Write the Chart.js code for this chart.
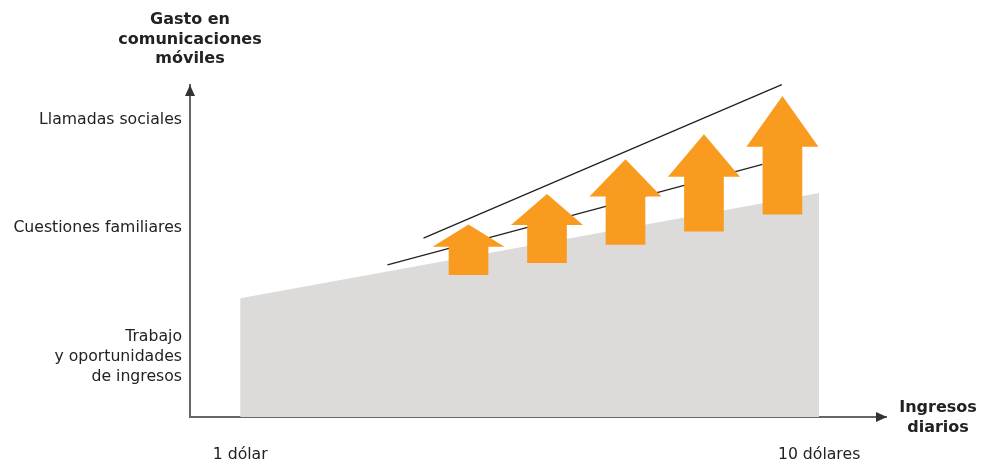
<!DOCTYPE html>
<html>
<head>
<meta charset="utf-8">
<script src="https://cdn.jsdelivr.net/npm/chart.js@4/dist/chart.umd.min.js"></script>
<style>
  html, body { margin: 0; padding: 0; background: #fff; }
  #wrap { width: 993px; height: 465px; }
</style>
</head>
<body>
<div id="wrap"><canvas id="chart"></canvas></div>
<script>
// ingresos diarios (eje x) y gasto (eje y), en unidades del gráfico
const incomeTicks = [1, 10];
const incomeLabels = ['1 dólar', '10 dólares'];
const spendTicks = [8.95, 5.69, 1.81];
const spendLabels = ['Llamadas sociales', 'Cuestiones familiares', ['Trabajo', 'y oportunidades', 'de ingresos']];

// zona gris
const areaX = [1, 10];
const areaY = [3.58, 6.75];

// las dos rectas negras
const upperLineX = [3.85, 9.42];
const upperLineY = [5.39, 10.01];
const lowerLineX = [3.29, 9.12];
const lowerLineY = [4.58, 7.61];

// flechas naranjas
const arrowX = [4.55, 5.77, 6.99, 8.21, 9.43];
const arrowBottom = [4.29, 4.65, 5.20, 5.60, 6.11];
const arrowBase = [5.13, 5.78, 6.64, 7.24, 8.14];
const arrowTip = [5.80, 6.72, 7.76, 8.52, 9.67];

const ORANGE = '#f99b1f';
const AXIS = '#666666';
const TEXT = '#222222';
const FONT = "'DejaVu Sans', Verdana, sans-serif";

const pts = (xs, ys) => xs.map((x, i) => ({ x: x, y: ys[i] }));

// puntas de flecha y textos de los ejes
const decorPlugin = {
  id: 'decor',
  afterDatasetsDraw(chart) {
    const ctx = chart.ctx;
    const xs = chart.scales.x, ys = chart.scales.y;
    const headHalf = 36;
    ctx.save();
    ctx.fillStyle = ORANGE;
    arrowX.forEach((v, i) => {
      const cx = xs.getPixelForValue(v);
      const by = ys.getPixelForValue(arrowBase[i]);
      const ty = ys.getPixelForValue(arrowTip[i]);
      ctx.beginPath();
      ctx.moveTo(cx - headHalf, by);
      ctx.lineTo(cx, ty);
      ctx.lineTo(cx + headHalf, by);
      ctx.closePath();
      ctx.fill();
    });

    // flechas de los ejes
    const area = chart.chartArea;
    const x0 = area.left;
    const y0 = area.bottom;
    ctx.fillStyle = '#333';
    ctx.beginPath();
    ctx.moveTo(area.right + 1, y0);
    ctx.lineTo(area.right - 10, y0 - 5);
    ctx.lineTo(area.right - 10, y0 + 5);
    ctx.closePath();
    ctx.fill();
    ctx.beginPath();
    ctx.moveTo(x0, area.top);
    ctx.lineTo(x0 - 5, area.top + 11);
    ctx.lineTo(x0 + 5, area.top + 11);
    ctx.closePath();
    ctx.fill();

    ctx.fillStyle = TEXT;
    ctx.font = 'bold 16px ' + FONT;
    ctx.textAlign = 'center';
    ctx.textBaseline = 'middle';
    ['Gasto en', 'comunicaciones', 'móviles'].forEach((t, i) => {
      ctx.fillText(t, x0, 20 + i * 19.5);
    });
    ['Ingresos', 'diarios'].forEach((t, i) => {
      ctx.fillText(t, area.right + 52, 408 + i * 19.5);
    });
    ctx.restore();
  }
};

new Chart(document.getElementById('chart'), {
  type: 'bar',
  data: {
    datasets: [
      {
        type: 'line',
        data: pts(areaX, areaY),
        fill: 'origin',
        backgroundColor: '#dcdbda',
        borderWidth: 0,
        pointRadius: 0,
        order: 4
      },
      {
        type: 'line',
        data: pts(upperLineX, upperLineY),
        borderColor: '#222',
        borderWidth: 1.3,
        pointRadius: 0,
        clip: false,
        order: 3
      },
      {
        type: 'line',
        data: pts(lowerLineX, lowerLineY),
        borderColor: '#222',
        borderWidth: 1.3,
        pointRadius: 0,
        order: 3
      },
      {
        type: 'bar',
        data: arrowX.map((x, i) => ({ x: x, y: [arrowBottom[i], arrowBase[i] + 0.02] })),
        backgroundColor: ORANGE,
        borderWidth: 0,
        barThickness: 39,
        order: 2
      }
    ]
  },
  options: {
    responsive: true,
    maintainAspectRatio: false,
    animation: false,
    events: [],
    layout: { padding: { top: 85, right: 107, bottom: 0, left: 0 } },
    plugins: {
      legend: { display: false },
      tooltip: { enabled: false }
    },
    scales: {
      x: {
        type: 'linear',
        min: 0.22,
        max: 11.04,
        offset: false,
        grid: { display: false, drawTicks: false },
        border: { display: true, color: AXIS, width: 2 },
        afterBuildTicks(scale) { scale.ticks = incomeTicks.map(v => ({ value: v })); },
        afterFit(scale) { scale.height = 48; },
        ticks: {
          autoSkip: false,
          maxRotation: 0,
          padding: 29,
          color: TEXT,
          font: { family: FONT, size: 15.7 },
          callback: (v) => incomeLabels[incomeTicks.indexOf(v)]
        }
      },
      y: {
        type: 'linear',
        min: 0,
        max: 10,
        grid: { display: false, drawTicks: false },
        border: { display: true, color: AXIS, width: 2 },
        afterBuildTicks(scale) { scale.ticks = spendTicks.map(v => ({ value: v })); },
        afterFit(scale) { scale.width = 190; },
        ticks: {
          autoSkip: false,
          padding: 8,
          color: TEXT,
          font: { family: FONT, size: 15.7, lineHeight: 1.25 },
          callback: (v) => spendLabels[spendTicks.indexOf(v)]
        }
      }
    }
  },
  plugins: [decorPlugin]
});
</script>
</body>
</html>
